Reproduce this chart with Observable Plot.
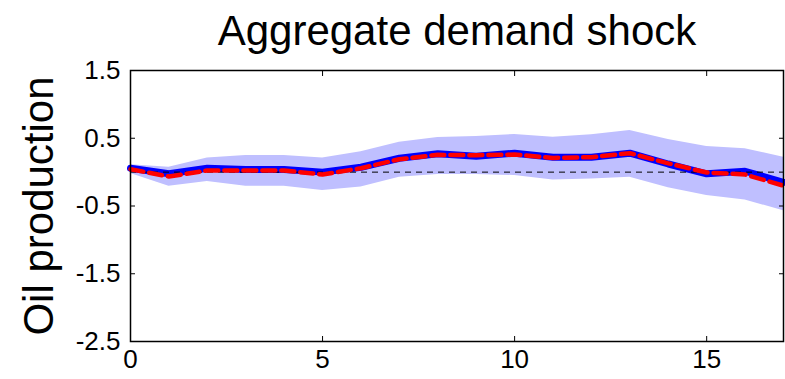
<!DOCTYPE html>
<html>
<head>
<meta charset="utf-8">
<script src="https://cdn.jsdelivr.net/npm/d3@7"></script>
<script src="https://cdn.jsdelivr.net/npm/@observablehq/plot@0.6"></script>
<style>
  html, body { margin: 0; padding: 0; background: #fff; }
  svg { display: block; }
</style>
</head>
<body>
<div id="chart"></div>
<script>
// ---- data ----
const titleText = "Aggregate demand shock";
const yLabel = "Oil production";
const horizon  = [0, 1, 2, 3, 4, 5, 6, 7, 8, 9, 10, 11, 12, 13, 14, 15, 16, 17];
const irfMedian = [0.058, -0.025, 0.058, 0.038, 0.038, 0.0, 0.072, 0.205, 0.27, 0.235, 0.28, 0.22, 0.22, 0.28, 0.12, -0.025, 0.013, -0.15];
const irfPoint  = [0.043, -0.065, 0.024, 0.024, 0.024, -0.035, 0.058, 0.19, 0.255, 0.25, 0.26, 0.21, 0.22, 0.28, 0.13, -0.006, -0.035, -0.2];
const bandLower = [-0.02, -0.21, -0.14, -0.21, -0.21, -0.27, -0.22, -0.075, -0.035, -0.035, -0.05, -0.115, -0.10, -0.075, -0.23, -0.345, -0.41, -0.57];
const bandUpper = [0.11, 0.072, 0.21, 0.245, 0.245, 0.21, 0.30, 0.44, 0.51, 0.525, 0.555, 0.515, 0.55, 0.615, 0.48, 0.38, 0.345, 0.22];
const xTicks = [0, 5, 10, 15];
const yTicks = [1.5, 0.5, -0.5, -1.5, -2.5];
const xDomain = [0, 17];
const yDomain = [-2.5, 1.5];

const rows = horizon.map((h, i) => ({
  h, med: irfMedian[i], pt: irfPoint[i], lo: bandLower[i], hi: bandUpper[i]
}));

const font = "'Liberation Sans', Arial, Helvetica, sans-serif";

const chart = Plot.plot({
  width: 785,
  height: 379,
  marginLeft: 130,
  marginRight: 2,
  marginTop: 70,
  marginBottom: 38,
  style: { fontFamily: font, background: "#fff", color: "#000" },
  x: { domain: xDomain, ticks: xTicks },
  y: { domain: yDomain, ticks: yTicks },
  marks: [
    Plot.areaY(rows, { x: "h", y1: "lo", y2: "hi", fill: "#bfbfff", fillOpacity: 1 }),
    Plot.lineY(rows, { x: "h", y: "med", stroke: "#0000ff", strokeWidth: 7, strokeLinejoin: "miter" }),
    Plot.ruleY([0], { stroke: "#000", strokeWidth: 1, strokeDasharray: "6,5" }),
    Plot.lineY(rows, { x: "h", y: "pt", stroke: "#ff0000", strokeWidth: 4.5, strokeDasharray: "13,6" }),
    // tick labels
    Plot.axisX({ anchor: "bottom", ticks: xTicks, tickSize: 0, tickPadding: 8, fontSize: 26, label: null, tickFormat: d => String(d) }),
    Plot.axisY({ anchor: "left", ticks: yTicks, tickSize: 0, tickPadding: 10, fontSize: 26, label: null, tickFormat: d => String(d) }),
    // inward tick marks on all four sides
    Plot.axisX({ anchor: "bottom", ticks: xTicks, tickSize: -5, text: null, label: null }),
    Plot.axisX({ anchor: "top", ticks: xTicks, tickSize: -5, text: null, label: null }),
    Plot.axisY({ anchor: "left", ticks: yTicks, tickSize: -5, text: null, label: null }),
    Plot.axisY({ anchor: "right", ticks: yTicks, tickSize: -5, text: null, label: null }),
    Plot.frame({ stroke: "#000", strokeWidth: 1.5 }),
    // title and y label
    Plot.text([titleText], { frameAnchor: "top", dy: -26, lineAnchor: "bottom", textAnchor: "middle", fontSize: 42, fill: "#000" }),
    Plot.text([yLabel], { frameAnchor: "left", dx: -91, rotate: -90, textAnchor: "middle", lineAnchor: "middle", fontSize: 42, fill: "#000" })
  ]
});

document.getElementById("chart").appendChild(chart);
</script>
</body>
</html>
